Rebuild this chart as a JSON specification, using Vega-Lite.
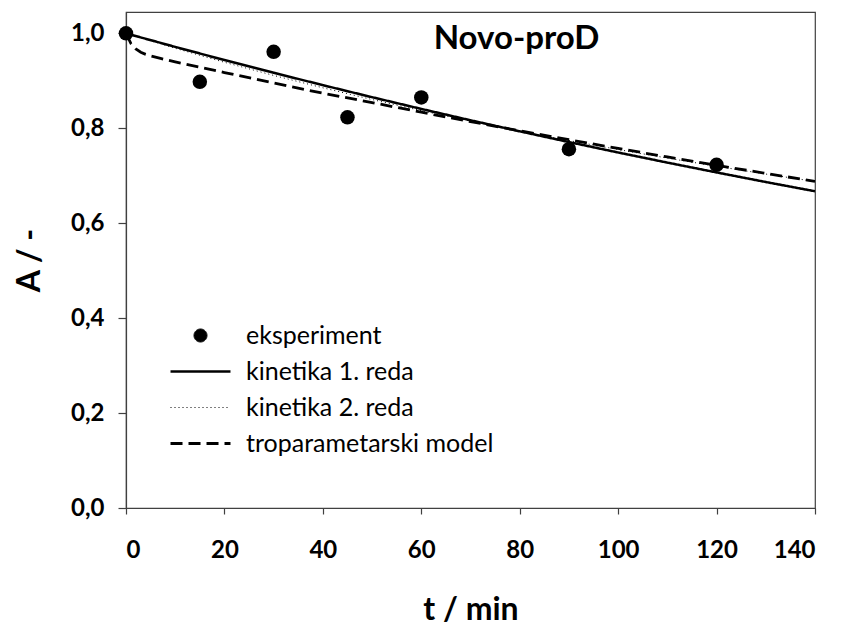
{
  "$schema": "https://vega.github.io/schema/vega-lite/v6.json",
  "width": 689,
  "height": 496,
  "autosize": "none",
  "padding": {"left": 126, "top": 12, "right": 28, "bottom": 118},
  "background": "white",
  "title": {
    "text": "Novo-proD",
    "anchor": "middle",
    "orient": "top",
    "dx": 46,
    "dy": 60,
    "offset": 0,
    "baseline": "middle",
    "font": "Lato",
    "fontSize": 33,
    "fontWeight": "bold",
    "color": "black"
  },
  "datasets": {
    "pts": [
      {"series": "eksperiment", "t": 0, "A": 1.0},
      {"series": "eksperiment", "t": 15, "A": 0.898},
      {"series": "eksperiment", "t": 30, "A": 0.961},
      {"series": "eksperiment", "t": 45, "A": 0.823},
      {"series": "eksperiment", "t": 60, "A": 0.865},
      {"series": "eksperiment", "t": 90, "A": 0.756},
      {"series": "eksperiment", "t": 120, "A": 0.723}
    ],
    "lines": [
      {"series": "kinetika 1. reda", "t": 0, "A": 1.0},
      {"series": "kinetika 1. reda", "t": 10, "A": 0.9715},
      {"series": "kinetika 1. reda", "t": 20, "A": 0.9438},
      {"series": "kinetika 1. reda", "t": 30, "A": 0.917},
      {"series": "kinetika 1. reda", "t": 40, "A": 0.8909},
      {"series": "kinetika 1. reda", "t": 50, "A": 0.8655},
      {"series": "kinetika 1. reda", "t": 60, "A": 0.8408},
      {"series": "kinetika 1. reda", "t": 70, "A": 0.8169},
      {"series": "kinetika 1. reda", "t": 80, "A": 0.7936},
      {"series": "kinetika 1. reda", "t": 90, "A": 0.771},
      {"series": "kinetika 1. reda", "t": 100, "A": 0.749},
      {"series": "kinetika 1. reda", "t": 110, "A": 0.7277},
      {"series": "kinetika 1. reda", "t": 120, "A": 0.707},
      {"series": "kinetika 1. reda", "t": 130, "A": 0.6868},
      {"series": "kinetika 1. reda", "t": 140, "A": 0.6673},
      {"series": "kinetika 2. reda", "t": 0, "A": 1.0},
      {"series": "kinetika 2. reda", "t": 10, "A": 0.9686},
      {"series": "kinetika 2. reda", "t": 20, "A": 0.9391},
      {"series": "kinetika 2. reda", "t": 30, "A": 0.9114},
      {"series": "kinetika 2. reda", "t": 40, "A": 0.8853},
      {"series": "kinetika 2. reda", "t": 50, "A": 0.8606},
      {"series": "kinetika 2. reda", "t": 60, "A": 0.8372},
      {"series": "kinetika 2. reda", "t": 70, "A": 0.8151},
      {"series": "kinetika 2. reda", "t": 80, "A": 0.7942},
      {"series": "kinetika 2. reda", "t": 90, "A": 0.7742},
      {"series": "kinetika 2. reda", "t": 100, "A": 0.7553},
      {"series": "kinetika 2. reda", "t": 110, "A": 0.7372},
      {"series": "kinetika 2. reda", "t": 120, "A": 0.72},
      {"series": "kinetika 2. reda", "t": 130, "A": 0.7036},
      {"series": "kinetika 2. reda", "t": 140, "A": 0.6879},
      {"series": "troparametarski model", "t": 0, "A": 1.0},
      {"series": "troparametarski model", "t": 1, "A": 0.9785},
      {"series": "troparametarski model", "t": 2, "A": 0.967},
      {"series": "troparametarski model", "t": 3, "A": 0.9602},
      {"series": "troparametarski model", "t": 4, "A": 0.9558},
      {"series": "troparametarski model", "t": 5, "A": 0.9525},
      {"series": "troparametarski model", "t": 7, "A": 0.9472},
      {"series": "troparametarski model", "t": 10, "A": 0.9399},
      {"series": "troparametarski model", "t": 20, "A": 0.9174},
      {"series": "troparametarski model", "t": 30, "A": 0.8954},
      {"series": "troparametarski model", "t": 40, "A": 0.8739},
      {"series": "troparametarski model", "t": 50, "A": 0.8541},
      {"series": "troparametarski model", "t": 60, "A": 0.8339},
      {"series": "troparametarski model", "t": 70, "A": 0.8141},
      {"series": "troparametarski model", "t": 80, "A": 0.7948},
      {"series": "troparametarski model", "t": 90, "A": 0.7759},
      {"series": "troparametarski model", "t": 100, "A": 0.7575},
      {"series": "troparametarski model", "t": 110, "A": 0.7396},
      {"series": "troparametarski model", "t": 120, "A": 0.722},
      {"series": "troparametarski model", "t": 130, "A": 0.7049},
      {"series": "troparametarski model", "t": 140, "A": 0.6882}
    ]
  },
  "encoding": {
    "x": {
      "field": "t",
      "type": "quantitative",
      "scale": {"domain": [0, 140], "nice": false},
      "axis": {
        "title": "t / min",
        "values": [0, 20, 40, 60, 80, 100, 120, 140],
        "grid": false,
        "tickSize": 6,
        "labelPadding": 24,
        "titlePadding": 32
      }
    },
    "y": {
      "field": "A",
      "type": "quantitative",
      "scale": {"domain": [0, 1.045], "nice": false},
      "axis": {
        "title": "A / -",
        "values": [0, 0.2, 0.4, 0.6, 0.8, 1.0],
        "grid": false,
        "tickSize": 8,
        "labelPadding": 14,
        "titlePadding": 24,
        "labelExpr": "replace(format(datum.value, '.1f'), '.', ',')"
      }
    }
  },
  "layer": [
    {
      "data": {"name": "lines"},
      "mark": {"type": "line", "color": "black", "clip": true},
      "encoding": {
        "detail": {"field": "series", "type": "nominal"},
        "strokeDash": {
          "field": "series",
          "type": "nominal",
          "scale": {
            "domain": ["eksperiment", "kinetika 1. reda", "kinetika 2. reda", "troparametarski model"],
            "range": [[1, 0], [1, 0], [1, 3], [12, 6]]
          },
          "legend": {
            "title": null,
            "orient": "none",
            "legendX": 62,
            "legendY": 311,
            "labelOffset": 33,
            "rowPadding": 10,
            "encode": {"symbols": {"update": {"stroke": {"value": "black"}, "fill": {"value": "black"}}}}
          }
        },
        "strokeWidth": {
          "field": "series",
          "type": "nominal",
          "scale": {
            "type": "ordinal",
            "domain": ["eksperiment", "kinetika 1. reda", "kinetika 2. reda", "troparametarski model"],
            "range": [1, 2.5, 1, 2.8]
          },
          "legend": {
            "title": null,
            "orient": "none",
            "legendX": 62,
            "legendY": 311,
            "labelOffset": 33,
            "rowPadding": 10,
            "encode": {"symbols": {"update": {"stroke": {"value": "black"}, "fill": {"value": "black"}}}}
          }
        }
      }
    },
    {
      "data": {"name": "pts"},
      "mark": {"type": "point", "filled": true, "color": "black", "opacity": 1, "size": 210},
      "encoding": {
        "shape": {
          "field": "series",
          "type": "nominal",
          "scale": {
            "domain": ["eksperiment", "kinetika 1. reda", "kinetika 2. reda", "troparametarski model"],
            "range": ["circle", "M-4.6,0H4.6", "M-4.6,0H4.6", "M-4.6,0H4.6"]
          },
          "legend": {
            "title": null,
            "orient": "none",
            "legendX": 62,
            "legendY": 311,
            "labelOffset": 33,
            "rowPadding": 10,
            "encode": {"symbols": {"update": {"stroke": {"value": "black"}, "fill": {"value": "black"}}}}
          }
        }
      }
    }
  ],
  "config": {
    "font": "Lato",
    "view": {"stroke": "#404040", "strokeWidth": 1.2},
    "axis": {
      "domainColor": "#404040",
      "domainWidth": 1.2,
      "tickColor": "#404040",
      "tickWidth": 1.2,
      "labelFont": "Lato",
      "labelFontSize": 24,
      "labelFontWeight": "bold",
      "labelColor": "black",
      "titleFont": "Lato",
      "titleFontSize": 32,
      "titleFontWeight": "bold",
      "titleColor": "black"
    },
    "legend": {
      "labelFont": "Lato",
      "labelFontSize": 25,
      "labelColor": "black",
      "labelLimit": 400,
      "symbolSize": 170,
      "symbolFillColor": "black",
      "symbolStrokeColor": "black",
      "symbolOpacity": 1,
      "padding": 0
    }
  }
}
